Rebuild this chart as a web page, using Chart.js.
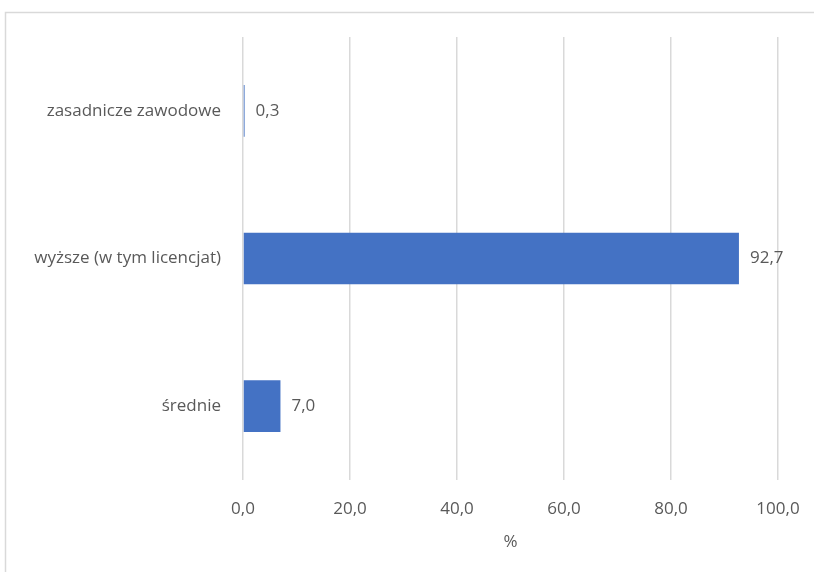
<!DOCTYPE html>
<html>
<head>
<meta charset="utf-8">
<script src="https://cdn.jsdelivr.net/npm/chart.js@4"></script>
<style>
  html, body { margin: 0; padding: 0; background: #fff; }
  #wrap { width: 814px; height: 572px; }
</style>
</head>
<body>
<div id="wrap"><canvas id="eduChart"></canvas></div>
<script>
const categories = ["zasadnicze zawodowe", "wyższe (w tym licencjat)", "średnie"];
const shares = [0.3, 92.7, 7.0];
const axisMax = 100;
const axisStep = 20;

const textColor = "#595959";
const fontFamily = "'Open Sans', sans-serif";
const fontSize = 17;

function formatPl(v) {
  return v.toFixed(1).replace(".", ",");
}

// Outer frame, like the spreadsheet chart border
const framePlugin = {
  id: "frame",
  beforeDraw(chart) {
    const ctx = chart.ctx;
    ctx.save();
    ctx.fillStyle = "#fff";
    ctx.fillRect(0, 0, chart.width, chart.height);
    ctx.strokeStyle = "#d9d9d9";
    ctx.lineWidth = 1.5;
    ctx.strokeRect(5.5, 12.5, chart.width + 10, chart.height + 10);
    ctx.restore();
  },
};

// Value labels at the end of each bar
const valueLabels = {
  id: "valueLabels",
  afterDatasetsDraw(chart) {
    const ctx = chart.ctx;
    const meta = chart.getDatasetMeta(0);
    ctx.save();
    ctx.font = fontSize + "px " + fontFamily;
    ctx.fillStyle = textColor;
    ctx.textAlign = "left";
    ctx.textBaseline = "middle";
    meta.data.forEach((bar, i) => {
      ctx.fillText(formatPl(shares[i]), bar.x + 11, bar.y);
    });
    ctx.restore();
  },
};

new Chart(document.getElementById("eduChart"), {
  type: "bar",
  data: {
    labels: categories,
    datasets: [
      {
        data: shares,
        backgroundColor: "#4472c4",
        categoryPercentage: 1,
        barPercentage: 0.35,
      },
    ],
  },
  options: {
    indexAxis: "y",
    responsive: true,
    maintainAspectRatio: false,
    animation: false,
    layout: {
      padding: { top: 37, right: 36, left: 0, bottom: 0 },
    },
    plugins: {
      legend: { display: false },
      tooltip: { enabled: false },
    },
    scales: {
      x: {
        min: 0,
        max: axisMax,
        ticks: {
          stepSize: axisStep,
          color: textColor,
          font: { family: fontFamily, size: fontSize },
          padding: 19,
          callback: (v) => formatPl(v),
        },
        grid: {
          color: "#d9d9d9",
          lineWidth: 1.5,
          drawTicks: false,
        },
        border: { display: false },
        title: {
          display: true,
          text: "%",
          color: textColor,
          font: { family: fontFamily, size: fontSize },
          padding: { top: 4, bottom: 20 },
        },
        afterFit(scale) {
          scale.height = 92;
          scale.paddingRight = 0;
          scale.paddingLeft = 0;
        },
      },
      y: {
        ticks: {
          color: textColor,
          font: { family: fontFamily, size: fontSize },
          padding: 14,
        },
        grid: { display: false },
        border: { display: false },
        afterFit(scale) {
          scale.width = 243;
        },
      },
    },
  },
  plugins: [framePlugin, valueLabels],
});
</script>
</body>
</html>
